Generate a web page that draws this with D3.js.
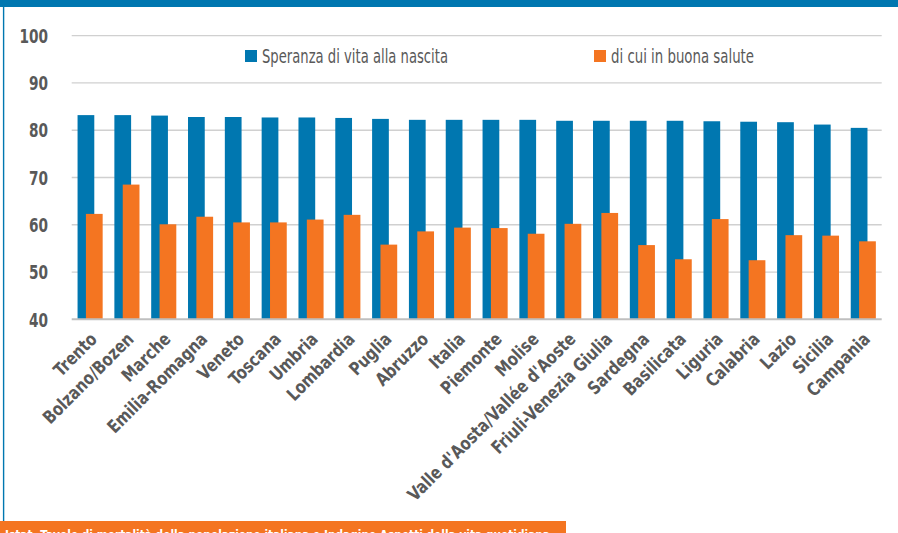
<!DOCTYPE html>
<html>
<head>
<meta charset="utf-8">
<script src="https://cdn.jsdelivr.net/npm/d3@7"></script>
<style>
  html, body { margin: 0; padding: 0; background: #fff; overflow: hidden; }
  svg { display: block; }
  text { font-family: "DejaVu Sans Condensed", "Liberation Sans Narrow", sans-serif; }
</style>
</head>
<body>
<div id="chart"></div>
<script>
// Dati
const regioni = ["Trento", "Bolzano/Bozen", "Marche", "Emilia-Romagna", "Veneto", "Toscana", "Umbria",
  "Lombardia", "Puglia", "Abruzzo", "Italia", "Piemonte", "Molise", "Valle d'Aosta/Vallée d'Aoste",
  "Friuli-Venezia Giulia", "Sardegna", "Basilicata", "Liguria", "Calabria", "Lazio", "Sicilia", "Campania"];
const speranzaVita = [83.2, 83.2, 83.1, 82.8, 82.8, 82.7, 82.7, 82.6, 82.4, 82.2, 82.2,
  82.2, 82.2, 82.0, 82.0, 82.0, 82.0, 81.9, 81.8, 81.7, 81.2, 80.5];
const buonaSalute = [62.3, 68.5, 60.1, 61.7, 60.5, 60.5, 61.1, 62.1, 55.8, 58.6, 59.4,
  59.3, 58.1, 60.2, 62.5, 55.7, 52.7, 61.2, 52.5, 57.8, 57.7, 56.5];
const yTicks = [40, 50, 60, 70, 80, 90, 100];
const serie = ["Speranza di vita alla nascita", "di cui in buona salute"];
const fonte = "Istat. Tavole di mortalità della popolazione italiana e Indagine Aspetti della vita quotidiana";

// Colori
const blu = "#0077b0";
const arancio = "#f47521";
const grigioTesto = "#595959";

const width = 898, height = 533;
const svg = d3.select("#chart").append("svg")
  .attr("width", width)
  .attr("height", height);

// Cornice
svg.append("rect").attr("x", 0).attr("y", 0).attr("width", width).attr("height", 7).attr("fill", blu);
svg.append("line").attr("x1", 3.6).attr("x2", 3.6).attr("y1", 7).attr("y2", 521)
  .attr("stroke", blu).attr("stroke-width", 1.4);

// Scale
const x = d3.scaleBand().domain(regioni).range([71.7, 881.7]).padding(0);
const y = d3.scaleLinear().domain([40, 100]).range([319.3, 35.7]);
const barW = x.bandwidth() / 2.2;

// Griglia
svg.append("g")
  .selectAll("line")
  .data(yTicks.filter(d => d > 40))
  .join("line")
  .attr("x1", 71.7).attr("x2", 881.7)
  .attr("y1", d => y(d)).attr("y2", d => y(d))
  .attr("stroke", "#d0d0d0").attr("stroke-width", 1.3);

// Etichette asse Y
svg.append("g")
  .selectAll("text")
  .data(yTicks)
  .join("text")
  .attr("transform", d => `translate(48, ${y(d)}) scale(0.76, 1)`)
  .attr("dy", "0.36em")
  .attr("text-anchor", "end")
  .attr("fill", grigioTesto)
  .style("font-size", "20px")
  .style("font-weight", "bold")
  .text(d => d);

// Barre
const righe = regioni.map((r, i) => ({ regione: r, vita: speranzaVita[i], salute: buonaSalute[i] }));

svg.append("g")
  .selectAll("rect")
  .data(righe)
  .join("rect")
  .attr("x", d => x(d.regione) + barW * 0.35)
  .attr("y", d => y(d.vita))
  .attr("width", barW)
  .attr("height", d => y(40) - y(d.vita))
  .attr("fill", blu);

svg.append("g")
  .selectAll("rect")
  .data(righe)
  .join("rect")
  .attr("x", d => x(d.regione) + barW * 0.85)
  .attr("y", d => y(d.salute))
  .attr("width", barW)
  .attr("height", d => y(40) - y(d.salute))
  .attr("fill", arancio);

// Asse X
svg.append("line")
  .attr("x1", 71.7).attr("x2", 881.7)
  .attr("y1", y(40)).attr("y2", y(40))
  .attr("stroke", "#bfbfbf").attr("stroke-width", 2);

svg.append("g")
  .selectAll("text")
  .data(regioni)
  .join("text")
  .attr("text-anchor", "end")
  .attr("fill", grigioTesto)
  .style("font-size", "18px")
  .style("font-weight", "bold")
  .attr("transform", d => `translate(${x(d) + x.bandwidth() / 2 + 8}, ${y(40) + 21}) rotate(-45) scale(0.9, 1)`)
  .text(d => d);

// Legenda
const legenda = [
  { nome: serie[0], colore: blu, x: 245, w: 186 },
  { nome: serie[1], colore: arancio, x: 594, w: 143 }
];
const leg = svg.append("g")
  .selectAll("g")
  .data(legenda)
  .join("g")
  .attr("transform", d => `translate(${d.x}, 50)`);
leg.append("rect").attr("width", 12).attr("height", 12).attr("fill", d => d.colore);
leg.append("text")
  .attr("x", 17).attr("y", 12.5)
  .attr("fill", grigioTesto)
  .style("font-size", "19px")
  .attr("textLength", d => d.w)
  .attr("lengthAdjust", "spacingAndGlyphs")
  .text(d => d.nome);

// Fonte
svg.append("rect").attr("x", 0).attr("y", 521).attr("width", 566).attr("height", 12).attr("fill", arancio);
svg.append("text")
  .attr("x", 5).attr("y", 538.5)
  .attr("fill", "#fff")
  .style("font-size", "12px")
  .style("font-weight", "bold")
  .attr("textLength", 545)
  .attr("lengthAdjust", "spacingAndGlyphs")
  .text(fonte);
</script>
</body>
</html>
